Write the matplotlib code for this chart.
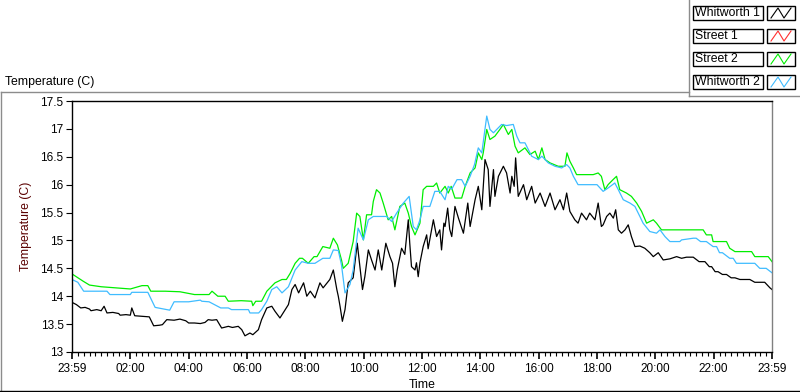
import matplotlib
matplotlib.use("Agg")
import matplotlib.pyplot as plt
from matplotlib.lines import Line2D
from matplotlib.patches import Rectangle
from matplotlib.ticker import MultipleLocator

# readings, hours after 23:59 and temperature in C
whitworth1_t = [0, 0.15, 0.3, 0.45, 0.6, 0.65, 0.85, 1.0, 1.1, 1.2, 1.4, 1.6, 1.65, 1.85,
                2.0, 2.05, 2.15, 2.4, 2.65, 2.8, 3.0, 3.1, 3.25, 3.5, 3.7, 3.9, 4.0, 4.2,
                4.4, 4.56, 4.67, 4.8, 4.96, 5.13, 5.36, 5.5, 5.7, 5.82, 5.93, 6.1, 6.2,
                6.39, 6.5, 6.68, 6.85, 6.96, 7.13, 7.31, 7.42, 7.54, 7.65, 7.77, 7.94,
                8.05, 8.17, 8.33, 8.5, 8.61, 8.84, 8.96, 9.08, 9.13, 9.19, 9.27, 9.36,
                9.47, 9.64, 9.78, 9.87, 9.96, 10.04, 10.16, 10.27, 10.39, 10.5, 10.62,
                10.76, 10.9, 10.99, 11.07, 11.15, 11.3, 11.41, 11.53, 11.58, 11.64,
                11.76, 11.81, 11.87, 11.93, 12.04, 12.16, 12.21, 12.39, 12.5, 12.61,
                12.67, 12.75, 12.79, 12.88, 12.95, 13.02, 13.13, 13.25, 13.42, 13.57,
                13.65, 13.82, 13.93, 14.05, 14.16, 14.27, 14.33, 14.45, 14.5, 14.62,
                14.79, 14.9, 15.02, 15.08, 15.16, 15.21, 15.3, 15.48, 15.59, 15.76,
                15.88, 16.05, 16.22, 16.39, 16.56, 16.73, 16.85, 16.96, 17.07, 17.24,
                17.35, 17.47, 17.64, 17.75, 17.93, 18.04, 18.15, 18.21, 18.33, 18.44,
                18.56, 18.64, 18.73, 18.84, 18.96, 19.07, 19.18, 19.3, 19.47, 19.64,
                19.81, 19.93, 20.1, 20.27, 20.5, 20.73, 20.9, 21.07, 21.3, 21.5, 21.7,
                21.85, 21.93, 22.05, 22.15, 22.3, 22.44, 22.6, 22.73, 22.9, 23.24,
                23.41, 23.75, 23.93, 24.0]
whitworth1_v = [13.89, 13.85, 13.79, 13.8, 13.77, 13.74, 13.76, 13.74, 13.82, 13.7, 13.71,
                13.69, 13.66, 13.67, 13.66, 13.79, 13.65, 13.64, 13.63, 13.47, 13.48,
                13.49, 13.58, 13.57, 13.59, 13.56, 13.52, 13.52, 13.51, 13.53, 13.58,
                13.57, 13.58, 13.43, 13.46, 13.44, 13.46, 13.4, 13.29, 13.34, 13.31,
                13.4, 13.58, 13.79, 13.82, 13.73, 13.61, 13.76, 13.85, 14.12, 14.21,
                14.06, 14.24, 14.0, 14.09, 13.97, 14.24, 14.15, 14.3, 14.47, 14.12,
                14.0, 13.82, 13.55, 13.76, 14.24, 14.33, 14.95, 14.53, 14.12, 14.35,
                14.83, 14.65, 14.47, 14.83, 14.47, 14.95, 14.71, 14.59, 14.17, 14.47,
                14.86, 14.75, 15.37, 14.95, 14.53, 14.47, 14.6, 14.35, 14.6, 14.89,
                15.1, 14.85, 15.37, 15.07, 15.19, 14.83, 15.31, 15.25, 15.58, 15.2,
                15.07, 15.61, 15.4, 15.13, 15.67, 15.25, 15.73, 15.97, 15.55, 16.45,
                16.27, 15.61, 16.27, 15.79, 16.15, 16.33, 16.21, 15.85, 16.15, 15.97,
                16.48, 15.79, 16.0, 15.73, 15.97, 15.67, 15.85, 15.61, 15.85, 15.55,
                15.73, 15.55, 15.85, 15.52, 15.37, 15.31, 15.49, 15.37, 15.49, 15.37,
                15.67, 15.25, 15.28, 15.43, 15.49, 15.4, 15.55, 15.19, 15.13, 15.19,
                15.28, 15.07, 14.89, 14.9, 14.86, 14.78, 14.71, 14.78, 14.65, 14.67,
                14.71, 14.68, 14.7, 14.7, 14.62, 14.62, 14.53, 14.53, 14.44, 14.44,
                14.39, 14.39, 14.33, 14.33, 14.3, 14.3, 14.25, 14.25, 14.15, 14.12]

street2_t = [0, 0.38, 0.6, 1.0, 1.5, 2.0, 2.4, 2.6, 2.7, 3.2, 3.7, 4.2, 4.7, 4.8, 5.0,
             5.25, 5.36, 5.8, 6.16, 6.2, 6.3, 6.5, 6.68, 6.96, 7.2, 7.35, 7.48, 7.65,
             7.8, 7.9, 8.1, 8.3, 8.4, 8.6, 8.84, 8.96, 9.1, 9.24, 9.3, 9.47, 9.64, 9.76,
             9.87, 9.99, 10.1, 10.27, 10.33, 10.44, 10.56, 10.67, 10.84, 10.96, 11.07,
             11.24, 11.41, 11.53, 11.64, 11.76, 11.93, 12.04, 12.16, 12.39, 12.5, 12.61,
             12.79, 12.9, 13.0, 13.13, 13.36, 13.48, 13.65, 13.82, 13.93, 14.05, 14.1,
             14.22, 14.33, 14.5, 14.67, 14.79, 14.96, 15.08, 15.19, 15.3, 15.53, 15.7,
             15.88, 15.99, 16.11, 16.22, 16.39, 16.67, 16.9, 16.97, 17.07, 17.19, 17.3,
             17.87, 18.04, 18.15, 18.27, 18.38, 18.55, 18.67, 18.78, 19.01, 19.18,
             19.36, 19.53, 19.7, 19.93, 20.04, 20.21, 21.64, 21.75, 21.93, 21.98,
             22.44, 22.55, 22.73, 23.3, 23.41, 23.87, 24.0]
street2_v = [14.4, 14.27, 14.2, 14.17, 14.15, 14.13, 14.19, 14.19, 14.09, 14.09, 14.08,
             14.03, 14.03, 14.09, 14.0, 14.0, 13.91, 13.92, 13.91, 13.83, 13.91, 13.91,
             14.09, 14.24, 14.3, 14.3, 14.41, 14.59, 14.68, 14.68, 14.59, 14.71, 14.71,
             14.89, 14.86, 15.04, 14.92, 14.65, 14.5, 14.59, 14.98, 15.49, 15.43, 15.01,
             15.46, 15.46, 15.7, 15.91, 15.85, 15.67, 15.37, 15.43, 15.19, 15.61, 15.67,
             15.49, 15.25, 15.1, 15.31, 15.91, 15.97, 15.97, 16.03, 15.85, 15.97, 15.85,
             15.97, 15.76, 15.76, 15.97, 16.21, 16.3, 16.57, 16.45, 16.57, 16.99, 16.81,
             16.87, 16.99, 17.08, 16.9, 16.99, 16.69, 16.57, 16.66, 16.54, 16.6, 16.45,
             16.66, 16.45, 16.39, 16.33, 16.33, 16.57, 16.42, 16.3, 16.18, 16.18, 16.21,
             16.15, 15.91, 16.0, 16.09, 16.15, 15.91, 15.85, 15.79, 15.67, 15.52, 15.31,
             15.37, 15.31, 15.19, 15.19, 15.1, 15.1, 14.98, 14.98, 14.86, 14.8, 14.8,
             14.71, 14.71, 14.62]

whitworth2_t = [0, 0.2, 0.4, 1.2, 1.3, 2.0, 2.05, 2.6, 2.85, 3.35, 3.5, 4.0, 4.4, 4.45,
                4.7, 5.1, 5.36, 5.47, 6.05, 6.1, 6.4, 6.5, 6.68, 6.85, 7.02, 7.2, 7.42,
                7.65, 7.88, 8.1, 8.33, 8.6, 8.84, 8.96, 9.13, 9.24, 9.36, 9.53, 9.64,
                9.81, 9.99, 10.16, 10.33, 10.79, 10.96, 11.13, 11.36, 11.56, 11.7, 11.81,
                11.93, 12.04, 12.27, 12.44, 12.61, 12.79, 12.9, 13.02, 13.2, 13.36,
                13.48, 13.65, 13.8, 13.93, 14.05, 14.22, 14.33, 14.45, 14.73, 14.9,
                15.13, 15.25, 15.36, 15.53, 15.76, 15.99, 16.11, 16.33, 16.56, 16.79,
                16.96, 17.07, 17.19, 17.35, 18.0, 18.21, 18.38, 18.61, 18.73, 18.9,
                19.13, 19.3, 19.47, 19.58, 19.81, 20.04, 20.16, 20.33, 20.5, 20.84,
                20.9, 21.3, 21.4, 21.55, 21.75, 21.98, 22.1, 22.2, 22.3, 22.55, 22.67,
                22.78, 23.41, 23.58, 23.8, 24.0]
whitworth2_v = [14.3, 14.25, 14.09, 14.09, 14.03, 14.03, 14.07, 14.07, 13.8, 13.75, 13.9,
                13.9, 13.93, 13.91, 13.9, 13.79, 13.79, 13.76, 13.76, 13.7, 13.7, 13.76,
                13.91, 14.12, 14.17, 14.06, 14.17, 14.47, 14.62, 14.59, 14.59, 14.68,
                14.68, 14.83, 14.82, 14.56, 14.06, 14.21, 14.47, 15.22, 15.01, 15.37,
                15.43, 15.43, 15.34, 15.49, 15.67, 15.79, 15.25, 15.19, 15.37, 15.61,
                15.61, 15.88, 15.88, 15.73, 15.97, 15.92, 16.09, 16.09, 15.97, 16.15,
                16.36, 16.66, 16.57, 17.23, 16.99, 16.93, 17.08, 17.06, 17.08, 16.87,
                16.75, 16.75, 16.51, 16.45, 16.51, 16.39, 16.33, 16.3, 16.36, 16.3,
                16.15, 16.0, 16.0, 15.88, 15.94, 16.03, 15.91, 15.73, 15.67, 15.61,
                15.43, 15.31, 15.16, 15.13, 15.19, 15.07, 14.98, 14.98, 15.01, 15.04,
                15.04, 14.98, 14.98, 14.89, 14.89, 14.78, 14.78, 14.68, 14.68, 14.59,
                14.59, 14.5, 14.5, 14.42]

legend_names = ["Whitworth 1", "Street 1", "Street 2", "Whitworth 2"]
legend_colors = ["#000000", "#ff3030", "#00ee00", "#3fbcff"]
x_tick_labels = ["23:59", "02:00", "04:00", "06:00", "08:00", "10:00", "12:00",
                 "14:00", "16:00", "18:00", "20:00", "22:00", "23:59"]

FONT = "Liberation Sans"
W, H = 800, 392

fig = plt.figure(figsize=(W / 100, H / 100), dpi=100)
fig.patch.set_facecolor("white")


def fx(px):
    return px / W


def fy(py):
    return 1 - py / H


ax = fig.add_axes([fx(72), fy(352), fx(700), 251 / H])

ax.plot(whitworth1_t, whitworth1_v, color=legend_colors[0], lw=0.9)
ax.plot(street2_t, street2_v, color=legend_colors[2], lw=0.9)
ax.plot(whitworth2_t, whitworth2_v, color=legend_colors[3], lw=0.9)

ax.set_xlim(0, 24)
ax.set_ylim(13, 17.5)
ax.set_xticks(range(0, 25, 2))
ax.set_xticklabels(x_tick_labels)
ax.xaxis.set_minor_locator(MultipleLocator(0.2))
ax.set_yticks([13 + 0.5 * i for i in range(10)])
ax.set_yticklabels(["13", "13.5", "14", "14.5", "15", "15.5", "16", "16.5", "17", "17.5"])

ax.tick_params(axis="both", which="major", labelsize=8.5, direction="out",
               colors="black", width=1.2)
ax.tick_params(axis="x", which="major", length=5, pad=3)
ax.tick_params(axis="x", which="minor", length=3, width=0.8)
ax.tick_params(axis="y", which="major", length=4, pad=2, width=0.8)
for lab in ax.get_xticklabels() + ax.get_yticklabels():
    lab.set_fontfamily(FONT)

for side in ["left", "top", "bottom"]:
    ax.spines[side].set_color("black")
    ax.spines[side].set_linewidth(1.0)
ax.spines["right"].set_color("#808080")
ax.spines["right"].set_linewidth(1.0)

ax.set_xlabel("Time", fontsize=8.8, family=FONT, labelpad=3)
ax.set_ylabel("Temperature (C)", fontsize=8.8, family=FONT, color="#5a0000", labelpad=6)

fig.text(fx(5), fy(82), "Temperature (C)", fontsize=8.8, family=FONT,
         ha="left", va="center")

# panel frame lines
gray = "#8c8c8c"
fig.add_artist(Line2D([fx(0.5), fx(689)], [fy(92), fy(92)], color=gray, lw=1))
fig.add_artist(Line2D([fx(0.5), fx(0.5)], [fy(92), fy(391)], color=gray, lw=1))
fig.add_artist(Line2D([0, 1], [fy(391), fy(391)], color="black", lw=1))
fig.add_artist(Line2D([fx(689), fx(689)], [fy(0), fy(96)], color=gray, lw=1))
fig.add_artist(Line2D([fx(689), fx(800)], [fy(96), fy(96)], color=gray, lw=1))

# legend boxes
for i, (name, col) in enumerate(zip(legend_names, legend_colors)):
    cy = 13 + 23 * i
    top = cy - 7
    fig.add_artist(Rectangle((fx(693), fy(top + 14)), fx(70), 14 / H,
                             facecolor="white", edgecolor="black", lw=1))
    fig.text(fx(695), fy(cy), name, fontsize=8.8, family=FONT,
             ha="left", va="center")
    fig.add_artist(Rectangle((fx(767), fy(top + 14)), fx(28), 14 / H,
                             facecolor="white", edgecolor="black", lw=1))
    zx = [771, 778, 784, 791]
    zy = [cy + 5, cy - 5, cy + 5, cy - 5]
    fig.add_artist(Line2D([fx(v) for v in zx], [fy(v) for v in zy], color=col, lw=0.8))

fig.savefig("out.png", dpi=100)
